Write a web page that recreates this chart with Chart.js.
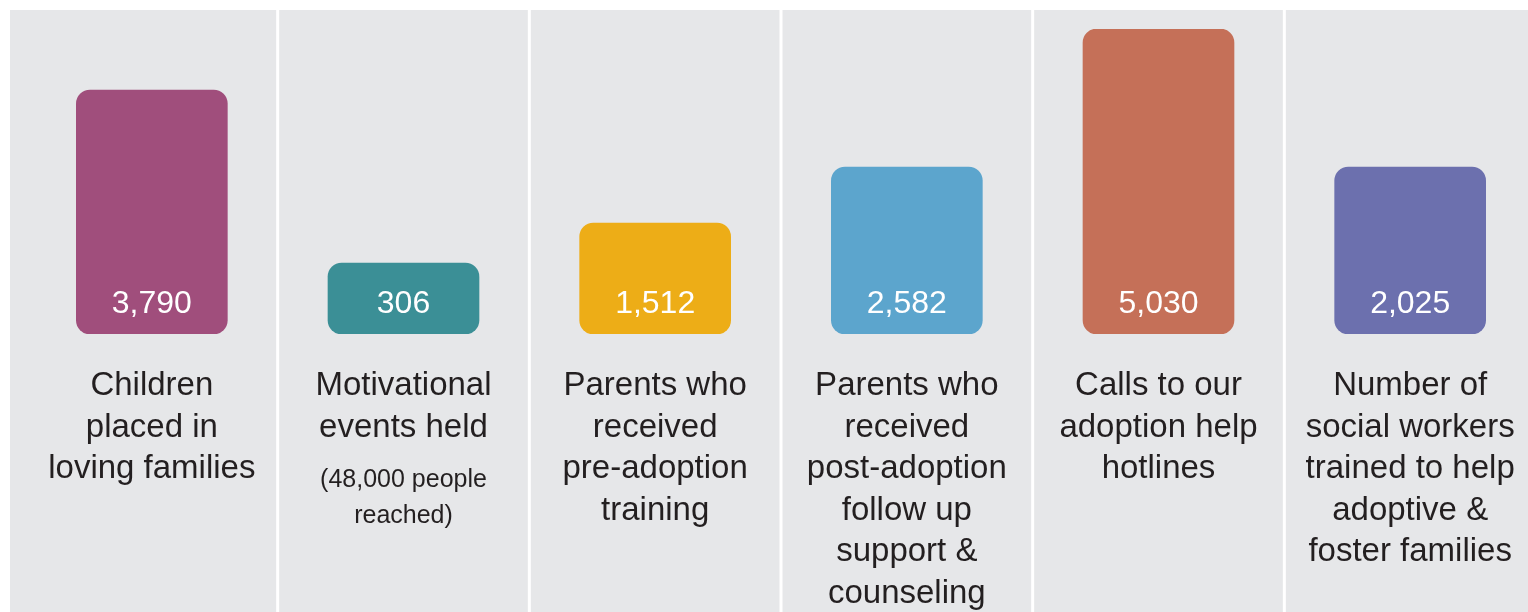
<!DOCTYPE html>
<html>
<head>
<meta charset="utf-8">
<script src="https://cdn.jsdelivr.net/npm/chart.js@4/dist/chart.umd.min.js"></script>
<style>
  html, body { margin: 0; padding: 0; background: #ffffff; overflow: hidden; }
  #wrap { position: absolute; left: 0; top: 0; width: 1540px; height: 612px; }
</style>
</head>
<body>
<div id="wrap"><canvas id="impactChart"></canvas></div>
<script>
  // category labels (main text, one entry per line)
  const categories = [
    ['Children', 'placed in', 'loving families'],
    ['Motivational', 'events held'],
    ['Parents who', 'received', 'pre-adoption', 'training'],
    ['Parents who', 'received', 'post-adoption', 'follow up', 'support &', 'counseling'],
    ['Calls to our', 'adoption help', 'hotlines'],
    ['Number of', 'social workers', 'trained to help', 'adoptive &', 'foster families']
  ];
  // small notes under some labels
  const notes = [[], ['(48,000 people', 'reached)'], [], [], [], []];
  // figures printed in the bars
  const values = [3790, 306, 1512, 2582, 5030, 2025];
  // bar heights as drawn in the infographic (not proportional to the figures)
  const barLevels = [244, 71, 111, 167, 305, 167];
  const barColors = ['#a04e7c', '#3b8f96', '#edad17', '#5ca5cd', '#c57058', '#6c70ae'];

  const FONT = '"Liberation Sans", Arial, Helvetica, sans-serif';

  const panelPlugin = {
    id: 'panel',
    beforeDraw: (chart) => {
      const ctx = chart.ctx;
      const x = chart.scales.x;
      ctx.save();
      ctx.fillStyle = '#e6e7e9';
      ctx.fillRect(10, 10, chart.width - 10, chart.height - 10);
      ctx.strokeStyle = '#ffffff';
      ctx.lineWidth = 3;
      for (let i = 0; i < categories.length - 1; i++) {
        const bx = (x.getPixelForValue(i) + x.getPixelForValue(i + 1)) / 2;
        ctx.beginPath();
        ctx.moveTo(bx, 10);
        ctx.lineTo(bx, chart.height);
        ctx.stroke();
      }
      ctx.restore();
    },
    afterDatasetsDraw: (chart) => {
      const ctx = chart.ctx;
      const meta = chart.getDatasetMeta(0);
      const x = chart.scales.x;
      const bottom = chart.chartArea.bottom;
      ctx.save();
      ctx.textAlign = 'center';
      ctx.textBaseline = 'alphabetic';

      // figures inside bars
      ctx.fillStyle = '#ffffff';
      ctx.font = '32px ' + FONT;
      meta.data.forEach((bar, i) => {
        ctx.fillText(values[i].toLocaleString('en-US'), bar.x, bar.base - 21);
      });

      // labels under bars
      ctx.fillStyle = '#231f20';
      categories.forEach((lines, i) => {
        const cx = x.getPixelForValue(i);
        let y = bottom + 61;
        ctx.font = '33px ' + FONT;
        lines.forEach((line, j) => {
          ctx.fillText(line, cx, y + j * 41.6);
        });
        y += (lines.length - 1) * 41.6 + 50;
        ctx.font = '25px ' + FONT;
        notes[i].forEach((line, j) => {
          ctx.fillText(line, cx, y + j * 36);
        });
      });
      ctx.restore();
    }
  };

  new Chart(document.getElementById('impactChart'), {
    type: 'bar',
    data: {
      labels: categories.map(c => c.join(' ')),
      datasets: [{
        data: barLevels,
        backgroundColor: barColors,
        borderRadius: 14,
        borderSkipped: false,
        barThickness: 151
      }]
    },
    options: {
      responsive: true,
      maintainAspectRatio: false,
      animation: false,
      layout: { padding: { left: 26, right: 4, top: 29, bottom: 278 } },
      scales: {
        x: { display: false },
        y: { display: false, min: 0, max: 305 }
      },
      plugins: {
        legend: { display: false },
        tooltip: { enabled: false }
      }
    },
    plugins: [panelPlugin]
  });
</script>
</body>
</html>
